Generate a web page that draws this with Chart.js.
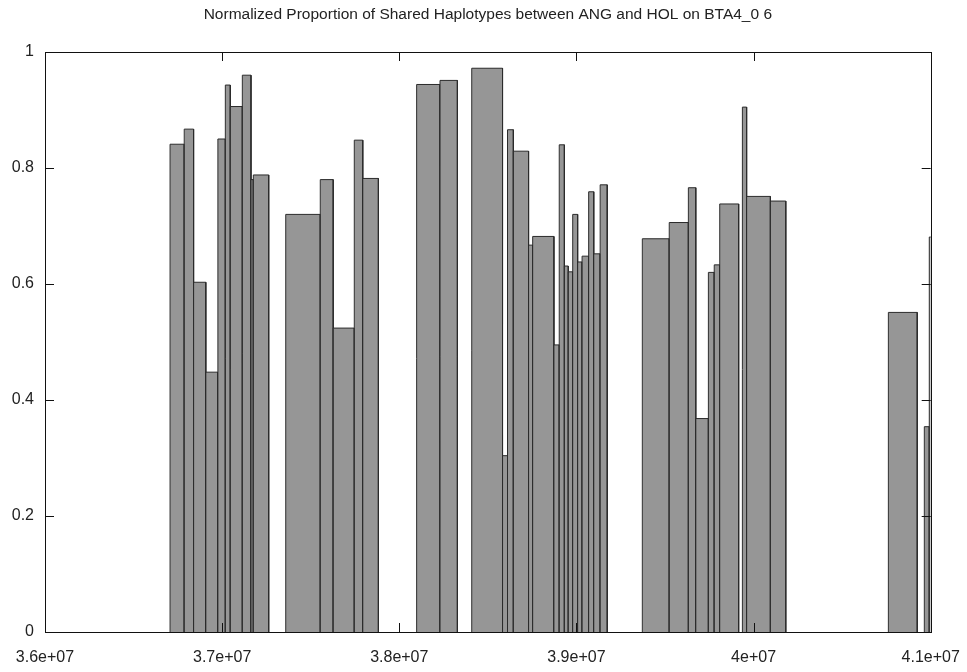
<!DOCTYPE html>
<html>
<head>
<meta charset="utf-8">
<script src="https://cdn.jsdelivr.net/npm/chart.js@4/dist/chart.umd.min.js"></script>
<style>
  html, body { margin: 0; padding: 0; background: #fff; }
  #wrap { width: 967px; height: 672px; }
</style>
</head>
<body>
<div id="wrap"><canvas id="myChart" width="967" height="672"></canvas></div>
<script>
// box edges (bp) and normalized shared-haplotype proportion per box
let binStart = [36706000, 36786000, 36839000, 36908000, 36976000, 37018000, 37046000, 37114000, 37163000, 37176000,
                37359000, 37554000, 37627000, 37746000, 37794000,
                38098000, 38230000, 38409000, 38583000, 38611000, 38644000, 38730000, 38753000, 38873000, 38903000,
                38932000, 38954000, 38979000, 39007000, 39032000, 39069000, 39098000, 39134000,
                39372000, 39524000, 39632000, 39674000, 39745000, 39778000, 39809000, 39937000, 39961000, 40095000,
                40761000, 40964000, 40992000];
let binEnd = [36786000, 36839000, 36908000, 36976000, 37018000, 37046000, 37114000, 37163000, 37176000, 37263000,
              37554000, 37627000, 37746000, 37794000, 37882000,
              38230000, 38328000, 38583000, 38611000, 38644000, 38730000, 38753000, 38873000, 38903000, 38932000,
              38954000, 38979000, 39007000, 39032000, 39069000, 39098000, 39134000, 39174000,
              39524000, 39632000, 39674000, 39745000, 39778000, 39809000, 39916000, 39961000, 40095000, 40182000,
              40924000, 40992000, 41020000];
let shared = [0.841, 0.867, 0.603, 0.448, 0.850, 0.943, 0.906, 0.960, 0.780, 0.788,
              0.720, 0.780, 0.524, 0.848, 0.782,
              0.944, 0.951, 0.972, 0.304, 0.866, 0.829, 0.667, 0.682, 0.495, 0.840,
              0.631, 0.621, 0.720, 0.638, 0.648, 0.759, 0.652, 0.771,
              0.678, 0.706, 0.766, 0.368, 0.620, 0.633, 0.738, 0.905, 0.751, 0.743,
              0.551, 0.354, 0.681];
let xTickLabels = ['3.6e+07', '3.7e+07', '3.8e+07', '3.9e+07', '4e+07', '4.1e+07'];
let yTickLabels = ['0', '0.2', '0.4', '0.6', '0.8', '1'];

let fillColor = '#969696';
let edgeColor = '#2b2b2b';
let fontFam = '"Liberation Sans", Arial, Helvetica, sans-serif';

// each box is a closed outline filled down to y=0, later boxes on top
let datasets = binStart.map((x0, i) => ({
    label: 'box' + i,
    data: [{x: x0, y: 0}, {x: x0, y: shared[i]}, {x: binEnd[i], y: shared[i]}, {x: binEnd[i], y: 0}],
    showLine: true,
    fill: 'origin',
    backgroundColor: fillColor,
    borderColor: edgeColor,
    borderWidth: 1,
    pointRadius: 0,
    tension: 0,
    order: -i
}));

// gnuplot style frame with inward ticks on all sides
let framePlugin = {
    id: 'frame',
    afterDatasetsDraw(chart) {
        let c = chart.ctx, a = chart.chartArea;
        let xs = chart.scales.x, ys = chart.scales.y;
        c.save();
        c.strokeStyle = '#111';
        c.lineWidth = 1;
        c.beginPath();
        xs.ticks.forEach(t => {
            let px = Math.round(xs.getPixelForValue(t.value)) + 0.5;
            c.moveTo(px, a.bottom); c.lineTo(px, a.bottom - 9);
            c.moveTo(px, a.top); c.lineTo(px, a.top + 9);
        });
        ys.ticks.forEach(t => {
            let py = Math.round(ys.getPixelForValue(t.value)) + 0.5;
            c.moveTo(a.left, py); c.lineTo(a.left + 9, py);
            c.moveTo(a.right, py); c.lineTo(a.right - 9, py);
        });
        c.stroke();
        c.strokeRect(Math.round(a.left) + 0.5, Math.round(a.top) + 0.5,
                     Math.round(a.right - a.left), Math.round(a.bottom - a.top));
        c.restore();
    }
};

let ctx = document.getElementById('myChart').getContext('2d');
let myChart = new Chart(ctx, {
    type: 'scatter',
    data: { datasets: datasets },
    options: {
        responsive: false,
        animation: false,
        layout: { padding: { left: 0, right: 36.3, top: 0, bottom: 0 } },
        plugins: {
            legend: { display: false },
            tooltip: { enabled: false },
            title: {
                display: true,
                fullSize: false,
                text: 'Normalized Proportion of Shared Haplotypes between ANG and HOL on BTA4_0 6',
                color: '#222',
                font: { family: fontFam, size: 15.5, weight: 'normal' },
                padding: { top: 5, bottom: 28.4 }
            }
        },
        scales: {
            x: {
                type: 'linear',
                min: 36000000,
                max: 41000000,
                grid: { display: false, drawTicks: false },
                border: { display: false },
                afterFit: s => { s.height = 40; s.paddingLeft = 0; s.paddingRight = 0; },
                afterBuildTicks: s => { s.ticks = xTickLabels.map((_, i) => ({ value: 36000000 + i * 1000000 })); },
                ticks: {
                    padding: 16,
                    maxRotation: 0,
                    autoSkip: false,
                    color: '#222',
                    font: { family: fontFam, size: 16 },
                    callback: (v, i) => xTickLabels[i]
                }
            },
            y: {
                min: 0,
                max: 1,
                grid: { display: false, drawTicks: false },
                border: { display: false },
                afterFit: s => { s.width = 45; s.paddingTop = 0; s.paddingBottom = 0; },
                afterBuildTicks: s => { s.ticks = yTickLabels.map(l => ({ value: Number(l) })); },
                ticks: {
                    padding: 11,
                    color: '#222',
                    font: { family: fontFam, size: 16 },
                    callback: (v, i) => yTickLabels[i]
                }
            }
        }
    },
    plugins: [framePlugin]
});
</script>
</body>
</html>
